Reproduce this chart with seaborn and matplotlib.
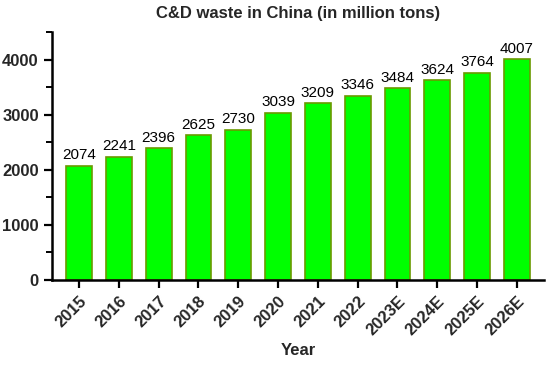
import matplotlib
matplotlib.use("Agg")
import matplotlib.pyplot as plt
import seaborn as sns
import pandas as pd
from matplotlib.ticker import MultipleLocator

# dados do grafico
anos = ["2015", "2016", "2017", "2018", "2019", "2020", "2021", "2022",
        "2023E", "2024E", "2025E", "2026E"]
residuos = [2074, 2241, 2396, 2625, 2730, 3039, 3209, 3346, 3484, 3624, 3764, 4007]

df = pd.DataFrame({"Year": anos, "Waste": residuos})

sns.set_style("ticks")
plt.rcParams['font.family'] = ['Liberation Sans', 'DejaVu Sans']

fig = plt.figure(figsize=(5.5, 3.65), dpi=100)
ax = fig.add_axes([0.0945, 0.233, 0.8945, 0.679])

sns.barplot(data=df, x="Year", y="Waste", color="#00ff00", saturation=1,
            width=0.65, edgecolor="#6a9a00", linewidth=1.2, ax=ax)

ax.bar_label(ax.containers[0], labels=[str(v) for v in residuos],
             padding=2.5, fontsize=11, color="black")

ax.set_xlim(-0.68, 11.68)
ax.set_ylim(0, 4500)
ax.yaxis.set_major_locator(MultipleLocator(1000))
ax.yaxis.set_minor_locator(MultipleLocator(500))

sns.despine(ax=ax)
for s in ["left", "bottom"]:
    ax.spines[s].set_linewidth(1.8)
    ax.spines[s].set_color("black")

ax.tick_params(axis="both", which="major", length=6, width=1.6, color="black",
               labelsize=12)
ax.tick_params(axis="y", which="minor", length=4, width=1.4, color="black")
for lbl in ax.get_xticklabels() + ax.get_yticklabels():
    lbl.set_fontweight("bold")
plt.setp(ax.get_xticklabels(), rotation=45, ha="right", rotation_mode="anchor")

ax.set_xlabel("Year", fontsize=12, fontweight="bold", labelpad=4)
ax.set_ylabel("")
ax.set_title("C&D waste in China (in million tons)", fontsize=12,
             fontweight="bold", pad=10)

fig.savefig("out.png", dpi=100)
